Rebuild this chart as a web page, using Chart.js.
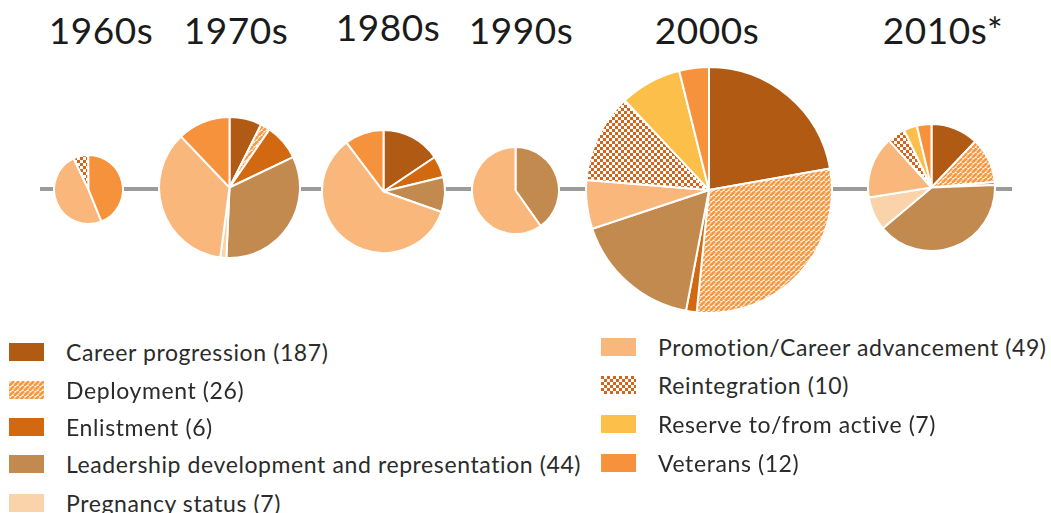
<!DOCTYPE html>
<html>
<head>
<meta charset="utf-8">
<script src="https://cdn.jsdelivr.net/npm/chart.js@4.4.0/dist/chart.umd.min.js"></script>
<style>
  body { margin: 0; background: #fff; font-family: Lato, "Open Sans", sans-serif; }
  #stage { position: relative; width: 1051px; height: 513px; overflow: hidden; }
  .axis { position: absolute; left: 40px; top: 187px; width: 972px; height: 4px; background: #9b9b9b; }
  .pie { position: absolute; }
  .decade { position: absolute; font-size: 37px; line-height: 37px; color: #1b1b1b; letter-spacing: 0.5px; transform: translateX(-50%); white-space: nowrap; }
  .item { position: absolute; height: 26px; display: flex; align-items: center; font-size: 23px; letter-spacing: 0.6px; color: #2b2b2b; white-space: nowrap; }
  .item canvas { display: block; }
</style>
</head>
<body>
<div id="stage">
  <div class="axis"></div>
</div>
<script>
// categories in slice order (clockwise)
const categories = [
  'Career progression (187)',
  'Deployment (26)',
  'Enlistment (6)',
  'Leadership development and representation (44)',
  'Pregnancy status (7)',
  'Promotion/Career advancement (49)',
  'Reintegration (10)',
  'Reserve to/from active (7)',
  'Veterans (12)'
];
const decades = ['1960s', '1970s', '1980s', '1990s', '2000s', '2010s*'];
// relative size of each decade pie (pie area ~ total)
const decadeTotals = [13, 56, 42, 21, 172, 45];
// share of each category in each decade, %
const share1960s = [0, 0, 0, 0, 0, 49, 7, 0, 44];
const share1970s = [7.4, 2.2, 8.3, 32.8, 1.4, 35.8, 0, 0, 12.1];
const share1980s = [15.6, 0, 5.6, 9.2, 0, 59.3, 0, 0, 10.3];
const share1990s = [0, 0, 0, 40.2, 0, 59.8, 0, 0, 0];
const share2000s = [22.2, 29.4, 1.4, 16.9, 0, 6.4, 11.7, 8.1, 3.9];
const share2010s = [12.1, 11.5, 0.8, 39.5, 8.6, 15.8, 4.6, 3.4, 3.7];
const startAngles = [158, 0, 0, 0, 0, 0];

const decadeShares = [share1960s, share1970s, share1980s, share1990s, share2000s, share2010s];

// layout
const maxRadius = 122;
const pieCenters = [[88.5, 189], [229, 187], [383, 191], [515, 190.5], [709, 190], [931.5, 187.5]];
const labelPos = [[101, 11], [236, 11], [388, 8], [521, 11], [707, 11], [943, 11]];

function stripes(color) {
  const c = document.createElement('canvas');
  c.width = c.height = 5;
  const g = c.getContext('2d');
  g.fillStyle = '#fff';
  g.fillRect(0, 0, 5, 5);
  g.strokeStyle = color;
  g.lineWidth = 2.8;
  g.beginPath();
  for (let k = -5; k <= 10; k += 5) { g.moveTo(k, 5); g.lineTo(k + 5, 0); }
  g.stroke();
  return g.createPattern(c, 'repeat');
}

function checks(color) {
  const c = document.createElement('canvas');
  c.width = c.height = 6;
  const g = c.getContext('2d');
  g.fillStyle = '#fff';
  g.fillRect(0, 0, 6, 6);
  g.fillStyle = color;
  g.fillRect(0, 0, 3, 3);
  g.fillRect(3, 3, 3, 3);
  return g.createPattern(c, 'repeat');
}

const fills = [
  '#b05a14',
  stripes('#f59a42'),
  '#d2680f',
  '#c38a50',
  '#fbd3ab',
  '#f9b77b',
  checks('#d4641c'),
  '#fbbf4a',
  '#f6913c'
];

const stage = document.getElementById('stage');
const biggest = Math.max(...decadeTotals);

decades.forEach((name, d) => {
  const shares = decadeShares[d];
  const idx = shares.map((v, i) => i).filter(i => shares[i] > 0);
  const r = maxRadius * Math.sqrt(decadeTotals[d] / biggest);
  const size = Math.round(2 * r + 4);
  const [cx, cy] = pieCenters[d];

  const wrap = document.createElement('div');
  wrap.className = 'pie';
  wrap.style.left = (cx - size / 2) + 'px';
  wrap.style.top = (cy - size / 2) + 'px';
  const canvas = document.createElement('canvas');
  canvas.width = size;
  canvas.height = size;
  canvas.style.width = size + 'px';
  canvas.style.height = size + 'px';
  wrap.appendChild(canvas);
  stage.appendChild(wrap);

  new Chart(canvas, {
    type: 'pie',
    data: {
      labels: idx.map(i => categories[i]),
      datasets: [{
        data: idx.map(i => shares[i]),
        backgroundColor: idx.map(i => fills[i]),
        borderColor: '#fff',
        borderWidth: 2
      }]
    },
    options: {
      responsive: false,
      animation: false,
      events: [],
      rotation: startAngles[d],
      layout: { padding: 0 },
      plugins: { legend: { display: false }, tooltip: { enabled: false } }
    }
  });

  const lab = document.createElement('div');
  lab.className = 'decade';
  lab.textContent = name;
  lab.style.left = labelPos[d][0] + 'px';
  lab.style.top = labelPos[d][1] + 'px';
  stage.appendChild(lab);
});

// legend, two columns
const legendLeft = [0, 1, 2, 3, 4];
const legendRight = [5, 6, 7, 8];
const leftRows = [352, 390, 427, 464, 503];
const rightRows = [347, 385, 424, 463];

function legendItem(i, x, cy) {
  const el = document.createElement('div');
  el.className = 'item';
  el.style.left = x + 'px';
  el.style.top = (cy - 13) + 'px';
  const sw = document.createElement('canvas');
  sw.width = 35; sw.height = 18;
  sw.style.marginRight = '22px';
  const g = sw.getContext('2d');
  g.fillStyle = fills[i];
  g.fillRect(0, 0, 35, 18);
  el.appendChild(sw);
  const t = document.createElement('span');
  t.textContent = categories[i];
  el.appendChild(t);
  stage.appendChild(el);
}
legendLeft.forEach((i, k) => legendItem(i, 9, leftRows[k]));
legendRight.forEach((i, k) => legendItem(i, 601, rightRows[k]));
</script>
</body>
</html>
